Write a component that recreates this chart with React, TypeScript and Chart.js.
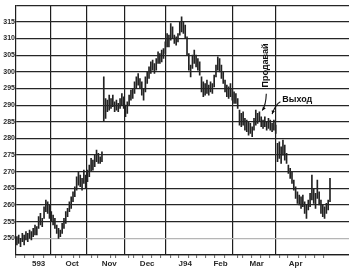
import React, { useEffect, useRef } from "react";
import { Chart, registerables } from "chart.js";

Chart.register(...registerables);

const monthNames = ["593", "Oct", "Nov", "Dec", "J94", "Feb", "Mar", "Apr"];
const monthStarts = [0, 21, 41, 62, 83, 104, 122, 144, 165];
const gridMonths = [21, 41, 62, 83, 122, 144];

const highs = [
  250.5, 251, 250, 251.5, 251, 252, 251.5, 252.5, 252, 253, 254, 253.5, 256.5, 257.5, 256, 259.5, 261.5, 261, 260, 258, 257,
  256, 254, 253, 252.5, 254.5, 256, 258, 259, 261, 262.5, 264, 265.5, 268.5, 270, 269, 268, 270.5, 269, 270.5, 272,
  274, 273.5, 275, 276.5, 275.5, 274.5, 276, 298.5, 292, 291.5, 293, 292, 293, 291, 291.5, 290.5, 292, 293.5, 292.5, 290, 291,
  293, 294.5, 295, 297, 298.5, 299.5, 298, 297, 295, 298.5, 300, 301.5, 303, 303.5, 302.5, 304, 306, 305.5, 306.5, 307, 309,
  311.5, 311, 314.5, 313.5, 311, 310.5, 311.5, 315, 316.5, 315, 314, 310.5, 305.5, 302, 305, 306.5, 305, 304, 303, 298.5, 297,
  296.5, 297.5, 296, 297, 296.5, 299, 302, 304.5, 304, 302, 300, 297.5, 296, 295.5, 296.5, 295, 294, 293.5,
  292, 288.5, 287.5, 288, 286, 285.5, 285, 284.5, 283.5, 286, 288.5, 287.5, 288, 286.5, 285.5, 286.5, 285, 286, 285.5, 284.5, 285.5, 284,
  278.5, 279, 277.5, 279.5, 278, 275.5, 272, 271, 270, 267.5, 265.5, 264, 263, 262.5, 263, 261, 260, 261.5, 263.5, 269, 265, 263.5,
  267.5, 264, 261.5, 260, 259.5, 260.5, 261.5, 268,
];

const lows = [
  248, 248.5, 247.5, 249, 248, 249.5, 249, 250, 249.5, 250.5, 251, 251, 253, 254, 253.5, 256, 258, 257.5, 256, 255, 254,
  253, 251.5, 250, 250.5, 251.5, 253, 254.5, 256.5, 258, 259, 261, 262.5, 264.5, 266, 265.5, 264.5, 266.5, 265, 267, 268.5,
  270, 270.5, 271.5, 273, 272.5, 272.5, 273, 285, 286, 288, 288.5, 289, 289.5, 288, 288.5, 288, 289, 290, 289, 286.5, 287.5,
  290, 291.5, 292, 293.5, 295, 296, 295, 293, 291.5, 294, 296.5, 298, 299.5, 300.5, 299.5, 300.5, 302.5, 302.5, 303, 304, 305.5,
  307.5, 307.5, 309.5, 310, 308.5, 308, 309, 311, 312, 311.5, 310, 305, 300.5, 298.5, 301, 302.5, 301.5, 300.5, 299, 294, 292.5,
  293, 293.5, 293, 294, 293.5, 295.5, 298.5, 300.5, 300, 298, 296.5, 294, 292.5, 292, 292.5, 291.5, 290.5, 290.5,
  289, 284, 283.5, 284, 282.5, 282, 281, 281.5, 280.5, 282.5, 284, 284.5, 285, 283.5, 283, 283.5, 282.5, 283, 282.5, 282, 282.5, 281.5,
  273, 274, 272.5, 275, 273.5, 272.5, 269.5, 268, 266.5, 264.5, 262, 260.5, 260, 259, 259.5, 257.5, 256, 258.5, 259.5, 261.5, 260.5, 259,
  262, 260, 257.5, 256.5, 256, 257.5, 258.5, 261,
];

const FONT = '"Liberation Sans", Arial, sans-serif';

const annotationPlugin = {
  id: "annotations",
  afterDatasetsDraw(chart: any) {
    const { ctx, scales } = chart;
    const X = (v: number) => scales.x.getPixelForValue(v);
    const Y = (v: number) => scales.y.getPixelForValue(v);
    ctx.save();
    ctx.fillStyle = "#111";
    ctx.strokeStyle = "#111";
    ctx.lineWidth = 1.1;
    ctx.font = `bold 9px ${FONT}`;

    ctx.save();
    ctx.translate(X(137.6), Y(301.9));
    ctx.rotate(-Math.PI / 2);
    ctx.textAlign = "center";
    ctx.textBaseline = "middle";
    ctx.fillText("Продавай", 0, 0);
    ctx.restore();

    const arrow = (x0: number, y0: number, cx: number, cy: number, x1: number, y1: number) => {
      ctx.beginPath();
      ctx.moveTo(x0, y0);
      ctx.quadraticCurveTo(cx, cy, x1, y1);
      ctx.stroke();
      const ang = Math.atan2(y1 - cy, x1 - cx);
      ctx.beginPath();
      ctx.moveTo(x1, y1);
      ctx.lineTo(x1 - 4 * Math.cos(ang - 0.45), y1 - 4 * Math.sin(ang - 0.45));
      ctx.lineTo(x1 - 4 * Math.cos(ang + 0.45), y1 - 4 * Math.sin(ang + 0.45));
      ctx.closePath();
      ctx.fill();
    };

    arrow(X(137.8), Y(293.4), X(137.6), Y(290), X(135.6), Y(288.4));

    ctx.textAlign = "left";
    ctx.textBaseline = "middle";
    ctx.fillText("Выход", X(146.6), Y(291.6));
    arrow(X(145.6), Y(291.0), X(143.0), Y(290.3), X(141.0), Y(287.3));
    ctx.restore();
  },
};

export default function App() {
  const ref = useRef<HTMLCanvasElement | null>(null);

  useEffect(() => {
    if (!ref.current) return;
    const data = highs.map((h, i) => ({ x: i, y: [lows[i], h] }));
    const chart = new Chart(ref.current, {
      type: "bar",
      data: {
        datasets: [
          {
            data: data as any,
            backgroundColor: "#222",
            borderWidth: 0,
            barThickness: 1,
          } as any,
        ],
      },
      plugins: [annotationPlugin],
      options: {
        animation: false,
        responsive: false,
        devicePixelRatio: 1,
        layout: { padding: { top: 1, right: 0, left: 0, bottom: 0 } },
        plugins: { legend: { display: false }, tooltip: { enabled: false } },
        scales: {
          x: {
            type: "linear",
            min: -0.5,
            max: 183.5,
            offset: false,
            afterBuildTicks: (scale: any) => {
              const ticks: any[] = [];
              for (let d = 2; d <= 172; d += 5) ticks.push({ value: d, kind: "minor" });
              gridMonths.forEach((m) => ticks.push({ value: m - 0.5, kind: "grid" }));
              monthNames.forEach((n, k) =>
                ticks.push({ value: (monthStarts[k] + monthStarts[k + 1]) / 2 + (k === 0 ? 1.5 : -0.5), label: n, kind: "label" })
              );
              ticks.sort((a, b) => a.value - b.value);
              scale.ticks = ticks;
            },
            afterFit: (scale: any) => {
              scale.height = 19;
            },
            ticks: {
              autoSkip: false,
              maxRotation: 0,
              minRotation: 0,
              padding: 1,
              color: "#2a2a2a",
              font: { family: FONT, size: 8, weight: "bold" },
              callback: (_v: any, i: number, ticks: any[]) => ticks[i].label || "",
            },
            grid: {
              drawOnChartArea: true,
              drawTicks: true,
              tickLength: 3,
              lineWidth: 1.2,
              color: (ctx: any) => (ctx.tick && ctx.tick.kind === "grid" ? "#1e1e1e" : "rgba(0,0,0,0)"),
              tickColor: (ctx: any) => (ctx.tick && ctx.tick.kind === "minor" ? "#666" : "rgba(0,0,0,0)"),
              tickWidth: 1,
            },
            border: { display: true, color: "#1e1e1e", width: 1.2 },
          },
          y: {
            type: "linear",
            min: 245,
            max: 320,
            afterFit: (scale: any) => {
              scale.width = 16;
            },
            ticks: {
              stepSize: 5,
              padding: 1,
              color: "#2a2a2a",
              font: { family: FONT, size: 7, weight: "bold" },
              callback: (v: any) => (v === 245 || v === 320 ? "" : String(v)),
            },
            grid: {
              drawTicks: false,
              lineWidth: 1.2,
              color: (ctx: any) => (ctx.tick && ctx.tick.value === 250 ? "#b5b5b5" : "#262626"),
            },
            border: { display: true, color: "#1e1e1e", width: 1.2 },
          },
        },
      } as any,
    });
    return () => chart.destroy();
  }, []);

  return (
    <div style={{ position: "fixed", left: 0, top: 0, width: 349, height: 274, background: "#fff" }}>
      <canvas ref={ref} width={349} height={274} style={{ width: 349, height: 274, display: "block" }} />
    </div>
  );
}
